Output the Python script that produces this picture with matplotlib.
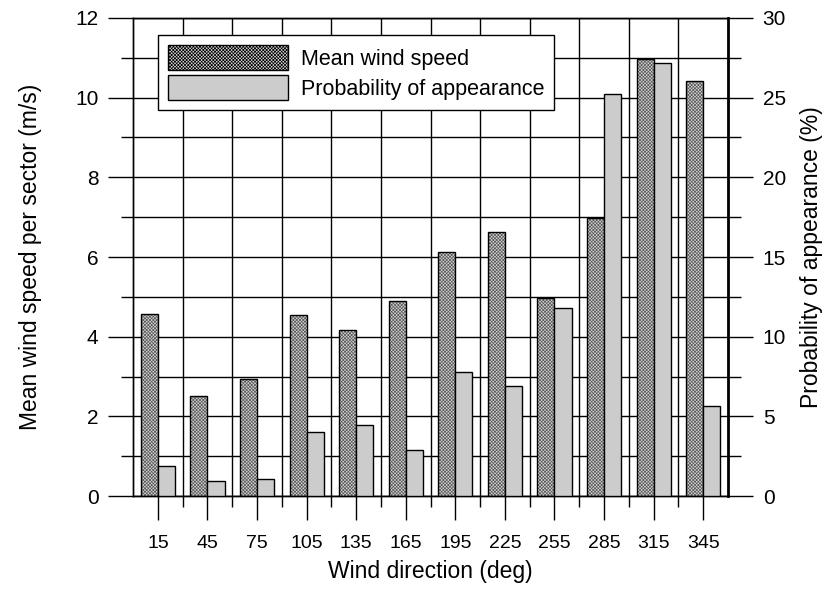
import numpy as np
import matplotlib
matplotlib.use('Agg')
import matplotlib.pyplot as plt

plt.rcParams['font.family'] = ['Liberation Sans', 'DejaVu Sans']
plt.rcParams['hatch.linewidth'] = 0.5

# wind sectors (deg, sector centres)
directions = [15, 45, 75, 105, 135, 165, 195, 225, 255, 285, 315, 345]
# mean wind speed per sector (m/s)
mean_speed = [4.57, 2.50, 2.94, 4.54, 4.17, 4.90, 6.12, 6.62, 4.97, 6.97, 10.98, 10.42]
# probability of appearance (%)
probability = [1.87, 0.96, 1.04, 4.02, 4.44, 2.86, 7.77, 6.88, 11.8, 25.2, 27.2, 5.64]
sector_edges = [30, 60, 90, 120, 150, 180, 210, 240, 270, 300, 330]

bw = 10.3
lw_tick = 1.0
hatch_face = '#d2d2d2'
hatch_col = '#5a5a5a'

fig = plt.figure(figsize=(8.32, 5.9), dpi=100)
ax = fig.add_axes([0.160, 0.1593, 0.715, 0.8102])
ax2 = ax.twinx()

x = np.array(directions)
ax.bar(x - bw / 2, mean_speed, width=bw, facecolor=hatch_face, edgecolor=hatch_col,
       hatch='xxxxxxxxxx', linewidth=0, zorder=3)
ax.bar(x - bw / 2, mean_speed, width=bw, facecolor='none', edgecolor='black',
       linewidth=1.0, zorder=4)
ax2.bar(x + bw / 2, probability, width=bw, facecolor='#cccccc', edgecolor='black',
        linewidth=1.0, zorder=3)

ax.set_xlim(0, 360)
ax.set_ylim(0, 12)
ax2.set_ylim(0, 30)

ax.set_xticks(directions)
ax.set_xticks(sector_edges, minor=True)
ax.set_yticks(range(0, 13, 2))
ax.set_yticks(range(1, 12, 2), minor=True)
ax2.set_yticks(range(0, 31, 5))
ax2.set_yticks(np.arange(2.5, 30, 5), minor=True)

ax.grid(which='both', axis='y', color='black', linewidth=1.0)
ax.grid(which='minor', axis='x', color='black', linewidth=1.0)
ax.set_axisbelow(True)

ax.tick_params(axis='x', which='major', length=17, width=lw_tick, labelsize=14, pad=11)
ax.tick_params(axis='x', which='minor', length=8, width=lw_tick)
ax.tick_params(axis='y', which='major', length=18, width=lw_tick, labelsize=15, pad=7)
ax.tick_params(axis='y', which='minor', length=9, width=lw_tick)
ax2.tick_params(axis='y', which='major', length=18, width=lw_tick, labelsize=15, pad=7)
ax2.tick_params(axis='y', which='minor', length=9, width=lw_tick)

for a in (ax, ax2):
    a.spines['top'].set_linewidth(1.0)
    a.spines['bottom'].set_linewidth(1.0)
    a.spines['left'].set_linewidth(1.0)
ax2.spines['right'].set_linewidth(2.0)

ax.set_xlabel('Wind direction (deg)', fontsize=16.5, labelpad=6)
ax.set_ylabel('Mean wind speed per sector (m/s)', fontsize=16.5, labelpad=24)
ax2.set_ylabel('Probability of appearance (%)', fontsize=16.5, labelpad=10)

proxy1 = plt.Rectangle((0, 0), 1, 1, facecolor=hatch_face, edgecolor='black',
                       hatch='xxxxxxxxxx', linewidth=1.0)
proxy2 = plt.Rectangle((0, 0), 1, 1, facecolor='#cccccc', edgecolor='black', linewidth=1.0)
leg = ax2.legend([proxy1, proxy2], ['Mean wind speed', 'Probability of appearance'],
                 loc='upper left', bbox_to_anchor=(0.042, 0.964),
                 borderaxespad=0, fontsize=15.5, handlelength=5.6, handleheight=1.45,
                 fancybox=False, framealpha=1, edgecolor='black', borderpad=0.45,
                 labelspacing=0.2, handletextpad=0.6)
leg.get_frame().set_linewidth(1.0)

fig.savefig('out.png', dpi=100)
